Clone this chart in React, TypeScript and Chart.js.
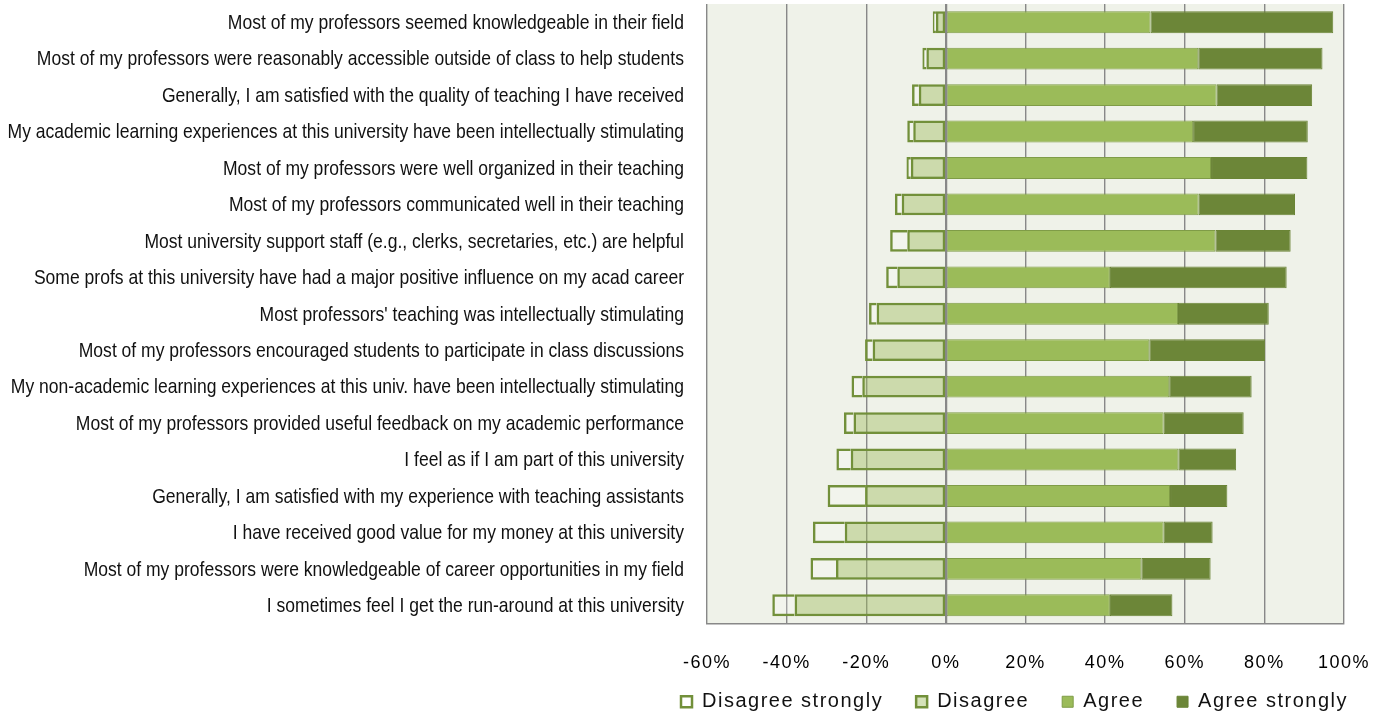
import React, { useEffect, useRef } from "react";
import { Chart, registerables } from "chart.js";

Chart.register(...registerables);

// Survey statements, listed top to bottom
const statements = [
  "Most of my professors seemed knowledgeable in their field",
  "Most of my professors were reasonably accessible outside of class to help students",
  "Generally, I am satisfied with the quality of teaching I have received",
  "My academic learning experiences at this university have been intellectually stimulating",
  "Most of my professors were well organized in their teaching",
  "Most of my professors communicated well in their teaching",
  "Most university support staff (e.g., clerks, secretaries, etc.) are helpful",
  "Some profs at this university have had a major positive influence on my acad career",
  "Most professors' teaching was intellectually stimulating",
  "Most of my professors encouraged students to participate in class discussions",
  "My non-academic learning experiences at this univ. have been intellectually stimulating",
  "Most of my professors provided useful feedback on my academic performance",
  "I feel as if I am part of this university",
  "Generally, I am satisfied with my experience with teaching assistants",
  "I have received good value for my money at this university",
  "Most of my professors were knowledgeable of career opportunities in my field",
  "I sometimes feel I get the run-around at this university",
];

// Percent of respondents per answer (disagree shares are plotted left of 0)
const disagreeStrongly = [0.8, 1.0, 1.7, 1.5, 1.1, 1.7, 4.3, 2.8, 1.9, 1.9, 2.7, 2.4, 3.6, 9.4, 8.0, 6.4, 5.6];
const disagree = [2.5, 4.9, 6.8, 8.2, 8.8, 11.1, 9.7, 12.2, 17.4, 18.4, 21.0, 23.2, 23.9, 20.3, 25.4, 27.6, 38.0];
const agree = [51.4, 63.4, 68.0, 62.1, 66.6, 63.5, 67.7, 41.2, 58.3, 51.1, 56.1, 54.7, 58.4, 56.3, 54.7, 49.1, 41.2];
const agreeStrongly = [45.9, 31.2, 24.0, 28.8, 24.2, 24.2, 18.9, 44.4, 22.8, 29.1, 20.7, 20.1, 14.5, 14.4, 12.3, 17.4, 15.7];

const seriesNames = ["Disagree strongly", "Disagree", "Agree", "Agree strongly"];
const axisMin = -60;
const axisMax = 100;
const axisStep = 20;

const WIDE_SPACING = "1.5px";
const LEGEND_SHIFT = 16.75;

const plotDecor = {
  id: "plotDecor",
  beforeLayout(chart: any) {
    chart.ctx.letterSpacing = WIDE_SPACING;
  },
  afterLayout(chart: any) {
    // pull the legend row up closer to the axis labels
    const lg = chart.legend;
    if (lg) {
      lg.top -= LEGEND_SHIFT;
      lg.bottom -= LEGEND_SHIFT;
    }
  },
  beforeDraw(chart: any) {
    const { ctx, chartArea } = chart;
    ctx.save();
    ctx.fillStyle = "#eff2e9";
    ctx.fillRect(chartArea.left, chartArea.top, chartArea.right - chartArea.left, chartArea.bottom - chartArea.top);
    ctx.restore();
    ctx.letterSpacing = WIDE_SPACING;
  },
  afterDatasetsDraw(chart: any) {
    const { ctx, chartArea } = chart;
    const x = Math.round(chart.scales.x.getPixelForValue(0)) + 0.5;
    ctx.save();
    ctx.strokeStyle = "#888";
    ctx.lineWidth = 1.5;
    ctx.beginPath();
    ctx.moveTo(x, chartArea.top);
    ctx.lineTo(x, chartArea.bottom);
    ctx.stroke();
    ctx.restore();
  },
  afterDraw(chart: any) {
    // category labels in a condensed face, right-aligned against the plot
    const { ctx } = chart;
    const yScale = chart.scales.y;
    const right = chart.chartArea.left - 23;
    ctx.save();
    ctx.letterSpacing = "0px";
    ctx.font = "21px 'Liberation Sans', Arial, sans-serif";
    ctx.fillStyle = "#111";
    ctx.textAlign = "right";
    ctx.textBaseline = "middle";
    (chart.data.labels as string[]).forEach((label, i) => {
      const y = yScale.getPixelForTick(i) + 1;
      ctx.save();
      ctx.translate(right, y);
      ctx.scale(0.835, 1);
      ctx.fillText(label, 0, 0);
      ctx.restore();
    });
    ctx.restore();
  },
};

export default function App() {
  const canvasRef = useRef<HTMLCanvasElement | null>(null);

  useEffect(() => {
    if (!canvasRef.current) return;
    Chart.defaults.font.family = "'Liberation Sans', Arial, sans-serif";
    const outline = "#72903a";
    const legendRank = [1, 0, 2, 3];

    const chart = new Chart(canvasRef.current, {
      type: "bar",
      data: {
        labels: statements,
        datasets: [
          {
            label: seriesNames[1],
            data: disagree.map((v) => -v),
            backgroundColor: "rgba(155,187,89,0.42)",
            borderColor: outline,
            borderWidth: 2.5,
            borderSkipped: false,
          },
          {
            label: seriesNames[0],
            data: disagreeStrongly.map((v) => -v),
            backgroundColor: "rgba(255,255,255,0.2)",
            borderColor: outline,
            borderWidth: 2.5,
            borderSkipped: "start",
          },
          {
            label: seriesNames[2],
            data: agree,
            backgroundColor: "#9bbb59",
            borderColor: "#7f9c47",
            borderWidth: 1,
            borderSkipped: false,
          },
          {
            label: seriesNames[3],
            data: agreeStrongly,
            backgroundColor: "#6c8638",
            borderColor: "#6a8436",
            borderWidth: 1,
            borderSkipped: false,
          },
        ],
      },
      options: {
        indexAxis: "y",
        animation: false,
        responsive: true,
        maintainAspectRatio: false,
        layout: { padding: { left: 0, right: 4, top: 4, bottom: -22.5 } },
        datasets: { bar: { barPercentage: 0.6, categoryPercentage: 1 } },
        scales: {
          x: {
            type: "linear",
            stacked: true,
            min: axisMin,
            max: axisMax,
            ticks: {
              stepSize: axisStep,
              padding: 28.5,
              color: "#000",
              font: { size: 18 },
              callback: (v: any) => `${v}%`,
            },
            grid: { color: "#888", lineWidth: 1.4, drawTicks: false },
            border: { display: true, color: "#888", width: 1.5 },
            afterFit: (s: any) => {
              s.height = 52;
              s.paddingRight = 41;
            },
          },
          y: {
            type: "category",
            stacked: true,
            ticks: { display: false, autoSkip: false },
            grid: { display: false, drawTicks: false },
            border: { display: false },
            afterFit: (s: any) => {
              s.width = 707;
            },
          },
        },
        plugins: {
          tooltip: { enabled: false },
          legend: {
            position: "bottom",
            fullSize: true,
            align: "end",
            labels: {
              boxWidth: 11,
              boxHeight: 11,
              padding: 33,
              color: "#111",
              font: { size: 20 },
              sort: (a: any, b: any) => legendRank[a.datasetIndex] - legendRank[b.datasetIndex],
            },
          },
        },
      },
      plugins: [plotDecor],
    });

    return () => chart.destroy();
  }, []);

  return (
    <div style={{ position: "fixed", left: 0, top: 0, width: 1385, height: 716, background: "#fff" }}>
      <canvas ref={canvasRef} />
    </div>
  );
}
